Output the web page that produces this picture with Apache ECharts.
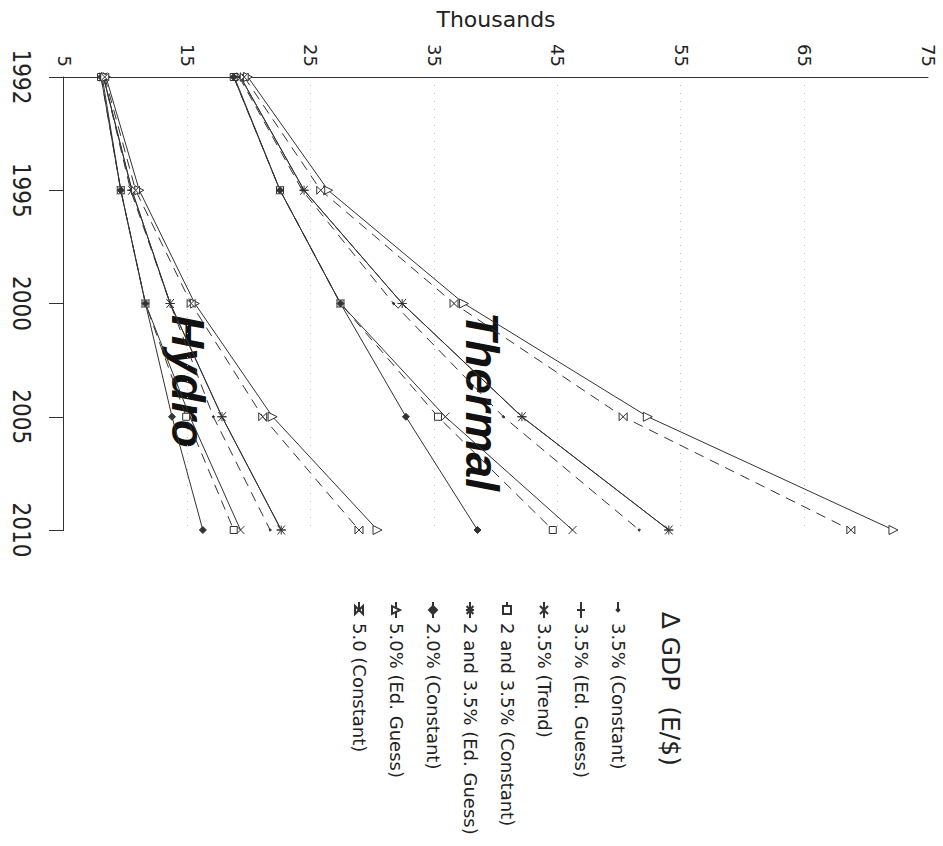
<!DOCTYPE html>
<html>
<head>
<meta charset="utf-8">
<title>GDP scenarios – Thermal and Hydro</title>
<script src="https://cdn.jsdelivr.net/npm/echarts@6/dist/echarts.min.js"></script>
<style>
  html, body { margin: 0; padding: 0; background: #fff; overflow: hidden; width: 943px; height: 846px; }
  /* the chart is laid out upright and then turned a quarter turn clockwise */
  #chart { position: absolute; left: 0; top: 0; width: 846px; height: 943px;
           transform-origin: 0 0; transform: translate(943px, 0) rotate(90deg); }
</style>
</head>
<body>
<div id="chart"></div>
<script>
// Years on the category axis
const years = ['1992', '1995', '2000', '2005', '2010'];

// Scenario names (legend order)
const scenarioNames = [
  '3.5% (Constant)',
  '3.5% (Ed. Guess)',
  '3.5% (Trend)',
  '2 and 3.5% (Constant)',
  '2 and 3.5% (Ed. Guess)',
  '2.0% (Constant)',
  '5.0% (Ed. Guess)',
  '5.0 (Constant)'
];

// Hydro, thousands
const hydro35Const   = [8.2, 10.4, 13.6, 17.1, 21.7];
const hydro35Ed      = [8.2, 10.5, 13.6, 17.8, 22.6];
const hydro35Trend   = [8.1, 9.6, 11.6, 15.2, 19.3];
const hydro2and35Con = [8.0, 9.6, 11.6, 14.9, 18.75];
const hydro2and35Ed  = [8.2, 10.5, 13.6, 17.8, 22.6];
const hydro20Const   = [8.0, 9.6, 11.6, 13.75, 16.25];
const hydro50Ed      = [8.4, 11.1, 15.6, 21.9, 30.4];
const hydro50Const   = [8.3, 10.8, 15.3, 21.1, 28.9];

// Thermal, thousands
const thermal35Const   = [19.2, 24.3, 31.7, 40.6, 51.6];
const thermal35Ed      = [19.3, 24.45, 32.4, 42.1, 54.0];
const thermal35Trend   = [18.8, 22.5, 27.4, 35.9, 46.2];
const thermal2and35Con = [18.75, 22.5, 27.4, 35.3, 44.6];
const thermal2and35Ed  = [19.3, 24.45, 32.4, 42.1, 54.0];
const thermal20Const   = [18.75, 22.5, 27.4, 32.7, 38.5];
const thermal50Ed      = [19.9, 26.4, 37.4, 52.3, 72.2];
const thermal50Const   = [19.6, 25.8, 36.6, 50.3, 68.75];

const INK = '#333';
const TEXT = '#222';

// marker shapes
const SYM_DOT = 'path://M0,0M10,10M5,3.4L6.6,5L5,6.6L3.4,5Z';
const SYM_PLUS = 'path://M5,0L5,10M0,5L10,5';
const SYM_CROSS = 'path://M0,0L10,10M10,0L0,10';
const SYM_STAR = 'path://M0,0L10,10M10,0L0,10M5,-1L5,11';
const SYM_HOURGLASS = 'path://M0,0L10,0L0,10L10,10Z';

const scenarios = [
  { name: scenarioNames[0], hydro: hydro35Const,   thermal: thermal35Const,   symbol: SYM_DOT,       size: 8, dashed: true,  filled: true },
  { name: scenarioNames[1], hydro: hydro35Ed,      thermal: thermal35Ed,      symbol: SYM_PLUS,      size: 9, dashed: false, filled: false },
  { name: scenarioNames[2], hydro: hydro35Trend,   thermal: thermal35Trend,   symbol: SYM_CROSS,     size: 8, dashed: false, filled: false },
  { name: scenarioNames[3], hydro: hydro2and35Con, thermal: thermal2and35Con, symbol: 'rect',        size: 7, dashed: true,  filled: false },
  { name: scenarioNames[4], hydro: hydro2and35Ed,  thermal: thermal2and35Ed,  symbol: SYM_STAR,      size: 9, dashed: false, filled: false },
  { name: scenarioNames[5], hydro: hydro20Const,   thermal: thermal20Const,   symbol: 'diamond',     size: 7, dashed: false, filled: true },
  { name: scenarioNames[6], hydro: hydro50Ed,      thermal: thermal50Ed,      symbol: 'triangle',    size: 9, dashed: false, filled: false },
  { name: scenarioNames[7], hydro: hydro50Const,   thermal: thermal50Const,   symbol: SYM_HOURGLASS, size: 8, dashed: true,  filled: false }
];

function makeSeries(sc, values) {
  return {
    name: sc.name,
    type: 'line',
    data: values,
    symbol: sc.symbol,
    symbolSize: sc.size,
    showSymbol: true,
    lineStyle: { color: INK, width: 1, type: sc.dashed ? [10, 7] : 'solid' },
    itemStyle: { color: sc.filled ? INK : '#fff', borderColor: INK, borderWidth: 1 },
    emphasis: { disabled: true },
    animation: false
  };
}

const series = [];
scenarios.forEach(sc => {
  series.push(makeSeries(sc, sc.hydro));
  series.push(makeSeries(sc, sc.thermal));
});

const chart = echarts.init(document.getElementById('chart'), null, { renderer: 'svg' });
chart.setOption({
  backgroundColor: '#fff',
  animation: false,
  grid: { left: 67, right: 316, top: 15, bottom: 64, containLabel: false },
  xAxis: {
    type: 'category',
    data: years,
    boundaryGap: false,
    axisLine: { show: true, lineStyle: { color: INK, width: 1 } },
    axisTick: { show: true, length: 15, lineStyle: { color: INK, width: 1 } },
    axisLabel: {
      margin: 31, fontSize: 24, color: TEXT,
      fontFamily: "'Liberation Sans Narrow', 'DejaVu Sans Condensed', sans-serif"
    },
    splitLine: { show: false }
  },
  yAxis: {
    type: 'value',
    min: 5, max: 75, interval: 10,
    name: 'Thousands',
    nameLocation: 'middle',
    nameRotate: 90,
    nameGap: 47,
    nameTextStyle: { fontFamily: 'DejaVu Sans', fontSize: 22, color: TEXT },
    axisLine: { show: true, lineStyle: { color: INK, width: 1 } },
    axisTick: { show: false },
    axisLabel: { margin: 10, fontSize: 18, color: TEXT, fontFamily: 'DejaVu Sans' },
    splitLine: {
      show: true, showMinLine: false, showMaxLine: false,
      lineStyle: { color: '#bbb', width: 1, type: [1, 7] }
    }
  },
  legend: {
    orient: 'vertical',
    left: 601, top: 316,
    padding: 0,
    itemWidth: 16, itemHeight: 10, itemGap: 19,
    selectedMode: false,
    data: scenarioNames,
    textStyle: { fontFamily: 'DejaVu Sans', fontSize: 18, lineHeight: 18, color: TEXT }
  },
  graphic: [
    {
      type: 'text', x: 612, y: 273, silent: true,
      style: { text: '\u2206 GDP  (E/$)', fill: TEXT, font: '25px "DejaVu Sans"',
               textAlign: 'left', textVerticalAlign: 'middle' }
    },
    {
      type: 'text', x: 312, y: 461, silent: true,
      style: { text: 'Thermal', fill: '#111', font: 'italic bold 46px "Liberation Sans", Arial, sans-serif',
               textAlign: 'left', textVerticalAlign: 'middle' }
    },
    {
      type: 'text', x: 315, y: 755, silent: true,
      style: { text: 'Hydro', fill: '#111', font: 'italic bold 46px "Liberation Sans", Arial, sans-serif',
               textAlign: 'left', textVerticalAlign: 'middle' }
    }
  ],
  series: series
});
</script>
</body>
</html>
